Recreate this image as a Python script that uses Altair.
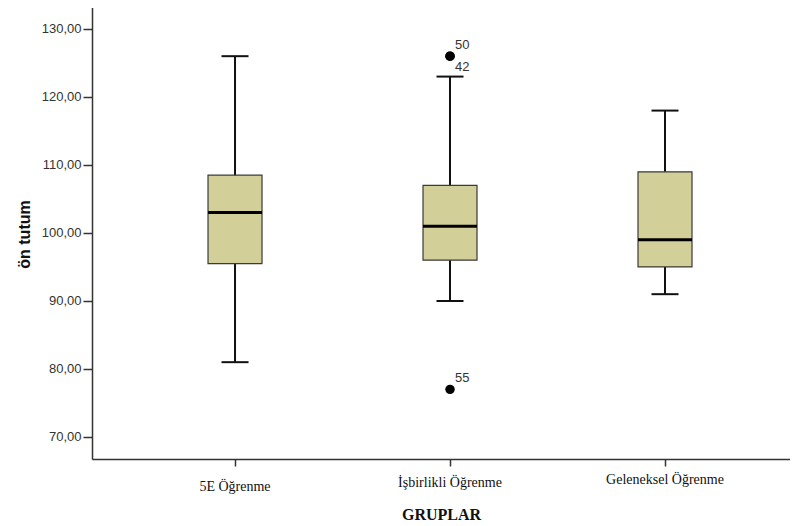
import altair as alt
import pandas as pd

# ---- data ----
groups = ["5E Öğrenme", "İşbirlikli Öğrenme", "Geleneksel Öğrenme"]
whisker_low = [81.0, 90.0, 91.0]
q1 = [95.5, 96.0, 95.0]
median = [103.0, 101.0, 99.0]
q3 = [108.5, 107.0, 109.0]
whisker_high = [126.0, 123.0, 118.0]

outlier_groups = ["İşbirlikli Öğrenme", "İşbirlikli Öğrenme", "İşbirlikli Öğrenme"]
outlier_values = [126.0, 126.0, 77.0]
outlier_labels = ["50", "42", "55"]

y_ticks = [70, 80, 90, 100, 110, 120, 130]

box_df = pd.DataFrame({
    "group": groups, "lo": whisker_low, "q1": q1, "med": median,
    "q3": q3, "hi": whisker_high,
})
out_df = pd.DataFrame({"group": outlier_groups, "value": outlier_values,
                       "label": outlier_labels})

W, H = 698, 453

pad_cond = {
    "condition": [
        {"test": "datum.value == '5E Öğrenme'", "value": 13},
        {"test": "datum.value == 'İşbirlikli Öğrenme'", "value": 9},
    ],
    "value": 6,
}

x_axis = alt.Axis(
    title="GRUPLAR", labelAngle=0, labelFont="Liberation Serif", labelFontSize=14,
    labelColor="#111111", tickSize=7, tickWidth=1.5, tickColor="#333333",
    labelPadding=pad_cond, domain=True, domainColor="#333333", domainWidth=1.5,
    grid=False,
    titleFont="Liberation Serif", titleFontSize=16, titleFontWeight="bold",
    titleColor="#111111", titleY=55, titleBaseline="middle",
)
x_enc = alt.X("group:N", sort=groups,
              scale=alt.Scale(domain=groups, paddingInner=0, paddingOuter=0.1233,
                              align=0.67),
              axis=x_axis)

y_scale = alt.Scale(domain=[66.76, 133.38], nice=False, zero=False)
y_axis = alt.Axis(
    title="ön tutum", values=y_ticks,
    labelExpr="replace(format(datum.value, '.2f'), '.', ',')",
    labelFont="Liberation Sans", labelFontSize=13, labelColor="#333333",
    labelPadding=2, tickSize=9, tickWidth=1.5, tickColor="#333333",
    domain=True, domainColor="#333333", domainWidth=1.5, grid=False,
    titleFont="Liberation Sans", titleFontSize=16, titleFontWeight="bold",
    titleColor="#111111", titleX=-68, titleY=228, titleAngle=-90,
    titleAlign="center", titleBaseline="middle",
)

base = alt.Chart(box_df)

whisker = base.mark_rule(color="#111111", strokeWidth=2).encode(
    x=x_enc, y=alt.Y("lo:Q", scale=y_scale, axis=y_axis), y2="hi:Q")
box = base.mark_bar(size=54, color="#D3CF98", stroke="#3a3a3a",
                    strokeWidth=1.2, opacity=1).encode(
    x=x_enc, y=alt.Y("q1:Q", scale=y_scale, axis=y_axis), y2="q3:Q")
cap_lo = base.mark_tick(size=27, thickness=2, color="#111111", opacity=1).encode(
    x=x_enc, y=alt.Y("lo:Q", scale=y_scale, axis=y_axis))
cap_hi = base.mark_tick(size=27, thickness=2, color="#111111", opacity=1).encode(
    x=x_enc, y=alt.Y("hi:Q", scale=y_scale, axis=y_axis))
med = base.mark_tick(size=54, thickness=3, color="#000000", opacity=1).encode(
    x=x_enc, y=alt.Y("med:Q", scale=y_scale, axis=y_axis))

obase = alt.Chart(out_df)
pts = obase.mark_circle(size=90, color="#000000", opacity=1).encode(
    x=x_enc, y=alt.Y("value:Q", scale=y_scale, axis=y_axis))
lab_up = obase.transform_filter("datum.label != '42'").mark_text(
    align="left", dx=5, dy=-11, font="Liberation Sans", fontSize=13,
    color="#333333").encode(
    x=x_enc, y=alt.Y("value:Q", scale=y_scale, axis=y_axis), text="label:N")
lab_dn = obase.transform_filter("datum.label == '42'").mark_text(
    align="left", dx=5, dy=11, font="Liberation Sans", fontSize=13,
    color="#333333").encode(
    x=x_enc, y=alt.Y("value:Q", scale=y_scale, axis=y_axis), text="label:N")

# top frame line of the plot area (right side is open, as in the reference)
top_line = alt.Chart(box_df).mark_rule(color="#333333", strokeWidth=1.5).encode(
    x=alt.value(0), x2=alt.value(W), y=alt.value(0))

chart = alt.layer(whisker, box, cap_lo, cap_hi, med, pts, lab_up, lab_dn,
                  top_line).properties(
    width=W, height=H,
    autosize=alt.AutoSizeParams(type="none"),
    padding={"left": 84, "top": -2, "right": 0, "bottom": 64},
).configure_view(
    fill="#EFEFEF", stroke=None
).configure(background="white")

chart.save("out.html", embed_options={"renderer": "svg", "actions": False})
